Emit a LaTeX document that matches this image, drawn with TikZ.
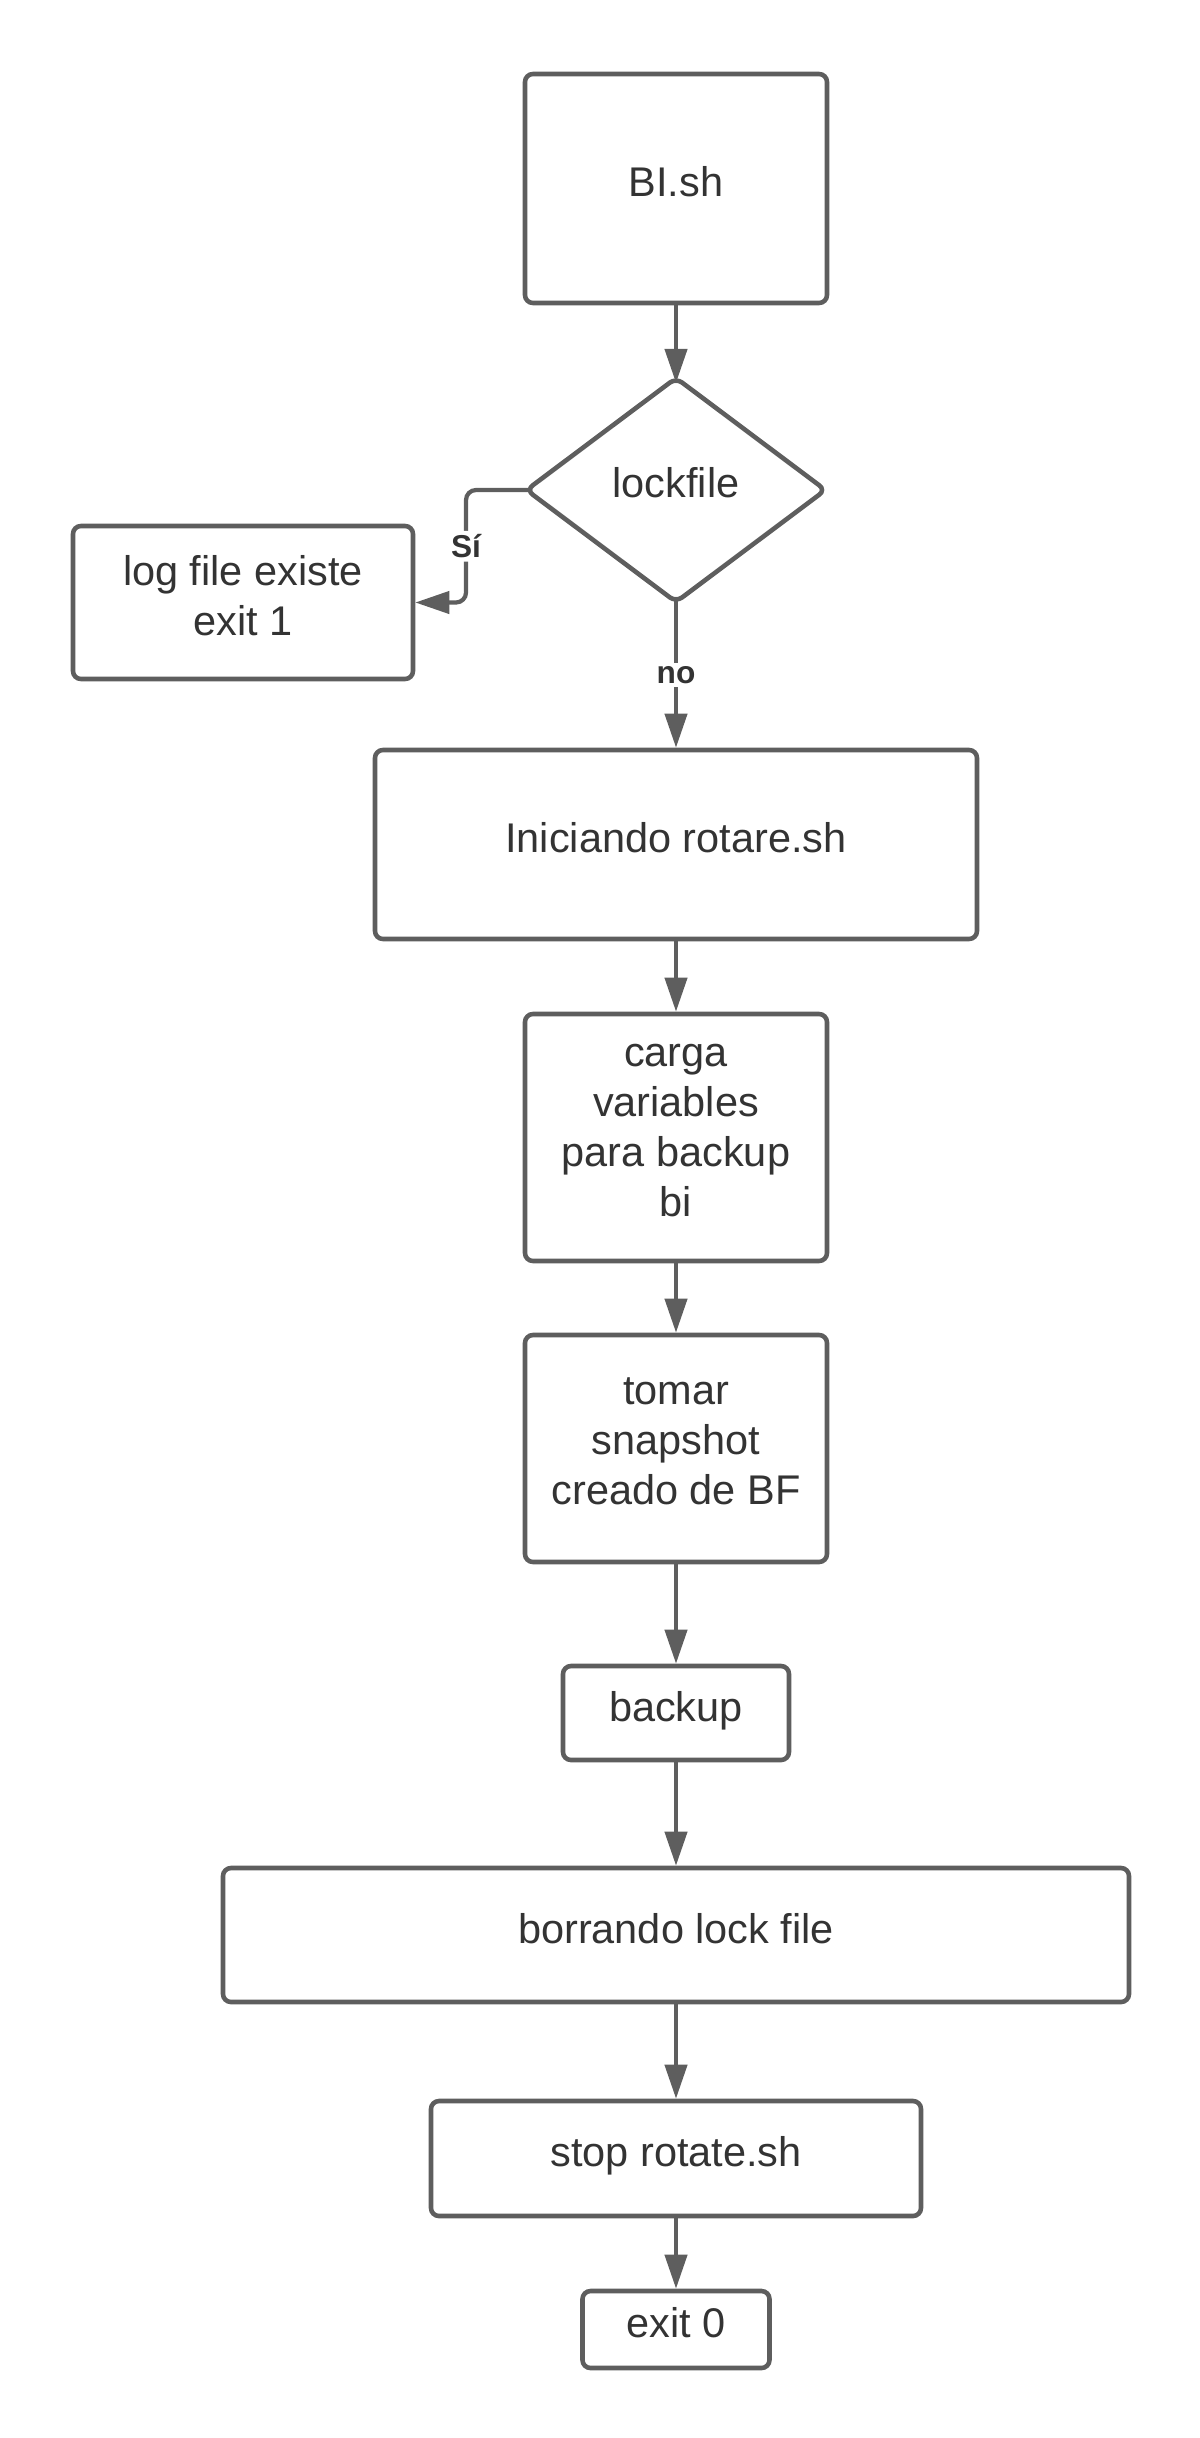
\documentclass[tikz,border=0pt]{standalone}
\usepackage{fontspec}
\setmainfont{Liberation Sans}
\usetikzlibrary{shapes.geometric,arrows.meta}
\definecolor{linegray}{HTML}{5E5E5E}
\definecolor{textgray}{HTML}{333333}
\tikzset{>={Triangle[length=6.8mm,width=4.4mm]}}
\tikzset{every node/.style={text=textgray,font=\fontsize{23.6}{28.4}\selectfont}}
\tikzset{proc/.style={draw=linegray,line width=2.6pt,rectangle,rounded corners=1.6mm,align=center,inner sep=0pt,text depth=8pt}}
\tikzset{decision/.style={draw=linegray,line width=2.6pt,diamond,aspect=1.34,rounded corners=1.5mm,inner sep=0pt,outer sep=0pt,text depth=8pt}}
\tikzset{flow/.style={->,draw=linegray,line width=2.4pt}}
\tikzset{lbl/.style={fill=white,inner sep=2pt,font=\fontsize{18}{21}\selectfont\bfseries}}

\begin{document}
\begin{tikzpicture}
\useasboundingbox (0,0) rectangle (24,-48.76);
\node (bish) at (13.52,-3.77) [proc,minimum width=6.04cm,minimum height=4.58cm]{BI.sh};
\node (lock) at (13.52,-9.80) [decision,minimum width=5.98cm,minimum height=4.48cm]{lockfile};
\node (logf) at (4.86,-12.05) [proc,minimum width=6.80cm,minimum height=3.06cm]{log file existe\\exit 1};
\node (ini) at (13.52,-16.89) [proc,minimum width=12.04cm,minimum height=3.78cm]{Iniciando rotare.sh};
\node (carga) at (13.52,-22.75) [proc,minimum width=6.04cm,minimum height=4.94cm]{carga\\variables\\para backup\\bi};
\node (tomar) at (13.52,-28.97) [proc,minimum width=6.04cm,minimum height=4.54cm]{tomar\\snapshot\\creado de BF};
\node (backup) at (13.52,-34.26) [proc,minimum width=4.52cm,minimum height=1.88cm]{backup};
\node (borrando) at (13.52,-38.70) [proc,minimum width=18.12cm,minimum height=2.68cm]{borrando lock file};
\node (stop) at (13.52,-43.17) [proc,minimum width=9.80cm,minimum height=2.30cm]{stop rotate.sh};
\node (exit) at (13.52,-46.59) [proc,minimum width=3.74cm,minimum height=1.54cm]{exit 0};
\draw [flow,shorten >=-1mm] (bish) -- (lock);
\draw [flow,rounded corners=2mm,shorten <=-1mm] (lock.west) -- ++(-1.21,0) |- node[lbl,pos=0.25] {Sí} (logf.east);
\draw [flow,shorten <=-1mm] (lock) -- (ini) node[lbl,midway] {no};
\draw [flow] (ini) -- (carga);
\draw [flow] (carga) -- (tomar);
\draw [flow] (tomar) -- (backup);
\draw [flow] (backup) -- (borrando);
\draw [flow] (borrando) -- (stop);
\draw [flow] (stop) -- (exit);
\end{tikzpicture}
\end{document}
